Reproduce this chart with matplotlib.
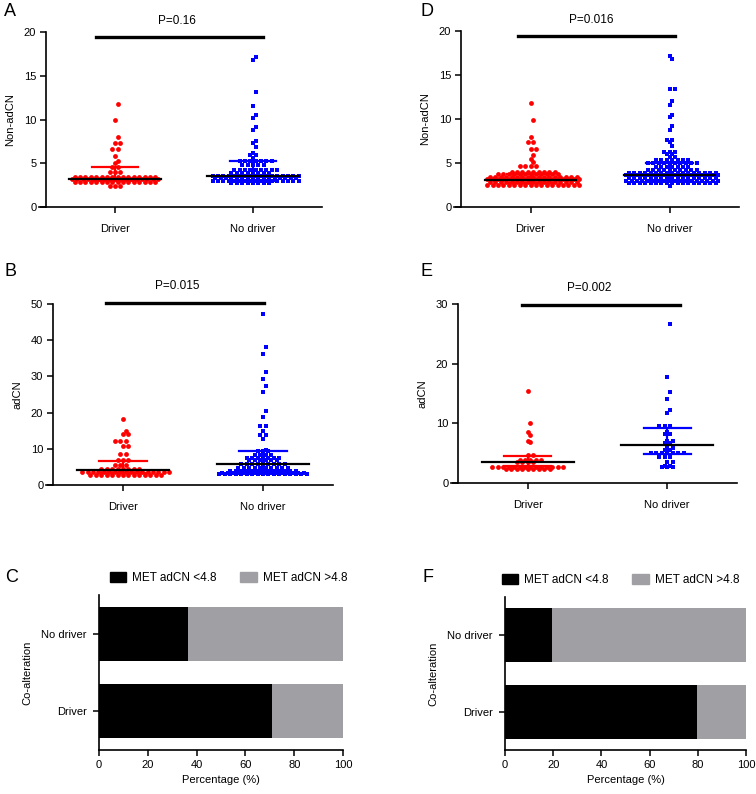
import matplotlib
matplotlib.use("Agg")
import matplotlib.pyplot as plt
import numpy as np
from matplotlib.patches import Patch

plt.rcParams['font.family'] = ['Liberation Sans', 'DejaVu Sans']

W, H = 756, 794

groups = ['Driver', 'No driver']
red = '#ff0000'
blue = '#0000ff'
grey = '#a0a0a4'

# ---- dot plot data: row values and how many dots sit on each row ----
a_drv_vals = [11.8, 9.9, 8.0, 7.3, 6.6, 5.85, 5.3, 5.05, 4.6, 3.95, 3.45, 3.15, 2.85, 2.35]
a_drv_cnts = [1, 1, 1, 2, 2, 1, 1, 1, 2, 3, 16, 17, 16, 3]
a_nod_vals = [17.2, 16.8, 13.2, 11.6, 10.5, 10.2, 9.2, 8.8, 7.6, 7.3, 6.9, 6.2, 6.0, 5.6, 5.3, 4.8, 4.2, 3.9, 3.6, 3.3, 3.0, 2.7]
a_nod_cnts = [1, 1, 1, 1, 1, 1, 1, 1, 1, 1, 1, 1, 2, 1, 7, 5, 9, 8, 17, 16, 17, 8]

d_drv_vals = [11.8, 9.9, 8.0, 7.4, 6.6, 5.9, 5.5, 5.1, 4.7, 4.0, 3.75, 3.45, 3.15, 2.85, 2.45]
d_drv_cnts = [1, 1, 1, 2, 2, 1, 1, 1, 4, 9, 12, 17, 18, 17, 18]
d_nod_vals = [17.2, 16.8, 13.4, 12.1, 11.6, 10.5, 10.2, 9.2, 8.8, 7.6, 7.4, 6.9, 6.2, 6.0, 5.7, 5.3, 5.0,
              4.6, 4.2, 3.9, 3.6, 3.3, 3.0, 2.7, 2.35]
d_nod_cnts = [1, 1, 2, 1, 1, 1, 1, 1, 1, 2, 1, 1, 3, 2, 2, 7, 10, 7, 10, 17, 18, 17, 18, 17, 1]

b_drv_vals = [18.2, 15.0, 14.2, 12.1, 10.7, 8.6, 6.9, 5.4, 4.5, 3.6, 2.9]
b_drv_cnts = [1, 1, 2, 3, 2, 2, 3, 3, 8, 17, 14]
b_nod_vals = [47.2, 38.0, 36.3, 31.3, 29.4, 27.3, 25.7, 20.5, 18.9, 16.3, 14.8, 13.8, 12.7,
              9.8, 9.3, 8.2, 7.5, 6.8, 5.8, 4.8, 4.0, 3.4, 3.0]
b_nod_cnts = [1, 1, 1, 1, 1, 1, 1, 1, 1, 2, 1, 2, 1, 1, 3, 4, 7, 6, 9, 10, 13, 16, 17]

e_drv_vals = [15.4, 10.0, 8.6, 8.0, 7.0, 6.8, 4.7, 3.8, 3.5, 2.7, 2.3]
e_drv_cnts = [1, 1, 1, 1, 1, 1, 2, 5, 4, 14, 9]
e_nod_vals = [26.6, 17.7, 15.2, 14.0, 12.2, 11.8, 9.5, 8.6, 8.2, 7.0, 6.7, 5.8, 5.6, 5.0, 4.4, 3.6, 2.9, 2.6]
e_nod_cnts = [1, 1, 1, 1, 1, 1, 3, 1, 2, 2, 2, 2, 2, 7, 3, 2, 2, 3]

# median and interquartile range: [driver, no driver]
a_med, a_q1, a_q3 = [3.2, 3.6], [3.0, 3.0], [4.6, 5.3]
d_med, d_q1, d_q3 = [3.1, 3.6], [2.7, 3.0], [3.7, 5.0]
b_med, b_q1, b_q3 = [4.1, 5.7], [3.3, 4.0], [6.7, 9.4]
e_med, e_q1, e_q3 = [3.5, 6.3], [2.8, 4.9], [4.5, 9.2]

# ---- stacked bar data (percent below 4.8) ----
bar_cats = ['Driver', 'No driver']
c_low = [71.0, 36.4]
f_low = [79.6, 19.4]


def ax_px(left, top, right, bottom):
    return [left / W, 1 - bottom / H, (right - left) / W, (bottom - top) / H]


def swarm_x(values, center, dx):
    # equal values side by side on a grid; neighbouring rows sit half a step apart
    vals = np.asarray(values)
    xs = np.empty(len(vals))
    for k, v in enumerate(np.unique(vals)):
        idx = np.where(vals == v)[0]
        n = len(idx)
        phase = (k % 2) * dx / 2
        start = -(n - 1) / 2 * dx
        start = np.round((start - phase) / dx) * dx + phase
        xs[idx] = center + start + np.arange(n) * dx
    return xs


def dot_panel(fig, rect, drv, nod, med, q1, q3, ymax, ystep, ylabel, ptext, pbar, letter, letter_xy):
    ax = fig.add_axes(rect)
    for i, ((vals, cnts), col, mk, ms) in enumerate([(drv, red, 'o', 12), (nod, blue, 's', 9)]):
        y = np.repeat(vals, cnts)
        x = swarm_x(y, i, 0.039)
        ax.scatter(x, y, s=ms, marker=mk, color=col, linewidths=0, zorder=2)
        ax.plot([i - 0.17, i + 0.17], [q3[i], q3[i]], color=col, lw=1.6, zorder=3)
        ax.plot([i - 0.17, i + 0.17], [q1[i], q1[i]], color=col, lw=1.6, zorder=3)
        ax.plot([i, i], [q1[i], q3[i]], color=col, lw=1.6, zorder=3)
        ax.plot([i - 0.33, i + 0.33], [med[i], med[i]], color='black', lw=1.6, zorder=4)
    ax.set_xlim(-0.5, 1.5)
    ax.set_ylim(0, ymax)
    ax.set_xticks([0, 1])
    ax.set_xticklabels(groups)
    ax.set_yticks(np.arange(0, ymax + 0.1, ystep))
    ax.spines['top'].set_visible(False)
    ax.spines['right'].set_visible(False)
    ax.spines['bottom'].set_bounds(-0.55, 1.5)
    for s in ('left', 'bottom'):
        ax.spines[s].set_linewidth(1.2)
    ax.tick_params(axis='both', direction='out', length=4, width=1.1, labelsize=8, pad=3)
    ax.tick_params(axis='x', pad=8)
    ax.set_ylabel(ylabel, fontsize=8, labelpad=6)
    x0, x1, yb, xt = pbar
    ax.plot([x0, x1], [yb, yb], color='black', lw=2.4, clip_on=False)
    ax.text(xt, yb + ymax * 0.06, ptext, ha='center', va='bottom', fontsize=8.5)
    fig.text(letter_xy[0] / W, 1 - letter_xy[1] / H, letter, fontsize=13, ha='left', va='center')
    return ax


def bar_panel(fig, rect, low, letter, letter_xy, leg_x):
    ax = fig.add_axes(rect)
    pos = np.arange(len(bar_cats))
    high = [100 - v for v in low]
    ax.barh(pos, low, height=0.7, color='black', label='MET adCN <4.8')
    ax.barh(pos, high, left=low, height=0.7, color=grey, label='MET adCN >4.8')
    ax.set_xlim(0, 100)
    ax.set_ylim(-0.5, 1.5)
    ax.set_yticks(pos)
    ax.set_yticklabels(bar_cats)
    ax.set_xticks(np.arange(0, 101, 20))
    ax.spines['top'].set_visible(False)
    ax.spines['right'].set_visible(False)
    for s in ('left', 'bottom'):
        ax.spines[s].set_linewidth(1.2)
    ax.tick_params(axis='both', direction='out', length=4, width=1.1, labelsize=8, pad=3)
    ax.tick_params(axis='y', pad=5)
    ax.set_xlabel('Percentage (%)', fontsize=8, labelpad=4)
    ax.set_ylabel('Co-alteration', fontsize=8, labelpad=6)
    handles = [Patch(color='black'), Patch(color=grey)]
    ax.legend(handles, ['MET adCN <4.8', 'MET adCN >4.8'], ncol=2, frameon=False, fontsize=8.5,
              loc='lower center', bbox_to_anchor=(leg_x, 1.04), handlelength=1.4, handleheight=0.9,
              handletextpad=0.5, columnspacing=2.0, borderaxespad=0)
    fig.text(letter_xy[0] / W, 1 - letter_xy[1] / H, letter, fontsize=13, ha='left', va='center')
    return ax


fig = plt.figure(figsize=(W / 100, H / 100), dpi=100)

dot_panel(fig, ax_px(46, 32, 322, 207), (a_drv_vals, a_drv_cnts), (a_nod_vals, a_nod_cnts),
          a_med, a_q1, a_q3, 20, 5, 'Non-adCN', 'P=0.16', (-0.14, 1.07, 19.4, 0.45), 'A', (4, 11))
dot_panel(fig, ax_px(461, 31, 739, 207), (d_drv_vals, d_drv_cnts), (d_nod_vals, d_nod_cnts),
          d_med, d_q1, d_q3, 20, 5, 'Non-adCN', 'P=0.016', (-0.09, 1.04, 19.4, 0.44), 'D', (421, 11))
dot_panel(fig, ax_px(53, 304, 333, 485), (b_drv_vals, b_drv_cnts), (b_nod_vals, b_nod_cnts),
          b_med, b_q1, b_q3, 50, 10, 'adCN', 'P=0.015', (-0.12, 1.01, 50.4, 0.39), 'B', (5, 272))
dot_panel(fig, ax_px(458, 304, 737, 483), (e_drv_vals, e_drv_cnts), (e_nod_vals, e_nod_cnts),
          e_med, e_q1, e_q3, 30, 10, 'adCN', 'P=0.002', (-0.04, 1.09, 29.9, 0.44), 'E', (421, 272))

bar_panel(fig, ax_px(99, 595, 343, 750), c_low, 'C', (5, 577), 0.53)
bar_panel(fig, ax_px(505, 597, 746, 750), f_low, 'F', (422, 577), 0.48)

fig.savefig('out.png', dpi=100)
